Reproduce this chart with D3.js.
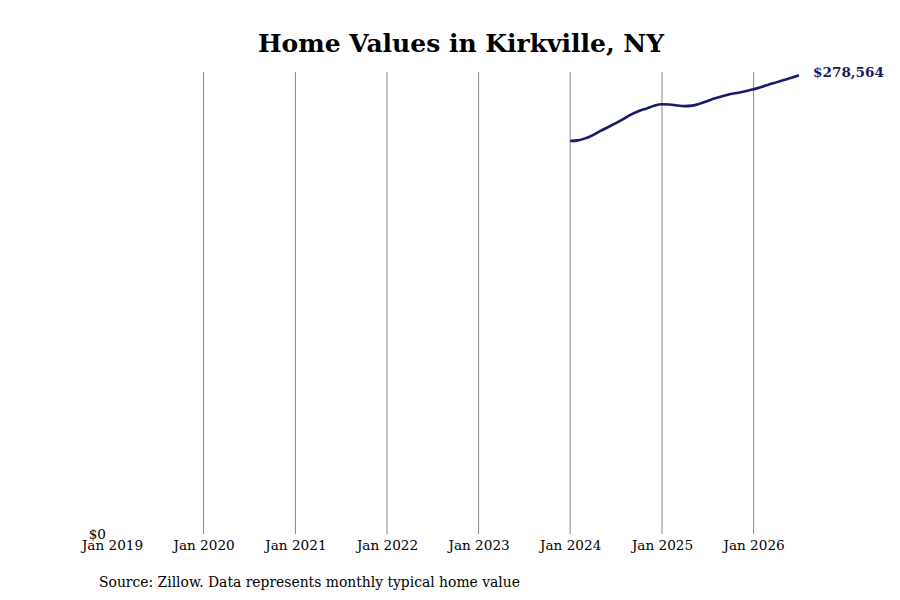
<!DOCTYPE html>
<html lang="en">
<head>
<meta charset="utf-8">
<title>Home Values in Kirkville, NY</title>
<script src="https://d3js.org/d3.v7.min.js"></script>
<style>
  body { margin: 0; background: #fff; }
  text { font-family: "DejaVu Serif", serif; }
</style>
</head>
<body>
<script>
// chart data
const startMonth = "2024-01";
const homeValues = [
  238600, 239000, 240200, 242200, 244700, 247100, 249500, 252100, 254800, 256800,
  258400, 260000, 260900, 260800, 260200, 259800, 260100, 261300, 262900, 264500,
  265900, 267100, 267900, 268900, 270000, 271400, 272800, 274200, 275600, 277000,
  278564
];
const tickYears = [2019, 2020, 2021, 2022, 2023, 2024, 2025, 2026];
const yTicks = [0];

const W = 900, H = 600;
const parse = d3.timeParse("%Y-%m");
const t0 = parse(startMonth);
const data = homeValues.map((v, i) => ({ date: d3.timeMonth.offset(t0, i), value: v }));

const svg = d3.select("body").append("svg")
  .attr("width", W).attr("height", H);

const x = d3.scaleTime()
  .domain([new Date(2019, 0, 1), new Date(2026, 6, 1)])
  .range([112, 799]);
const y = d3.scaleLinear()
  .domain([0, 280500])
  .range([534, 72]);

// title
svg.append("text")
  .attr("x", 461).attr("y", 52)
  .attr("text-anchor", "middle")
  .attr("font-size", "25px")
  .attr("font-weight", "bold")
  .text("Home Values in Kirkville, NY");

// vertical gridlines
svg.append("g").selectAll("line")
  .data(tickYears.slice(1))
  .join("line")
  .attr("x1", d => x(new Date(d, 0, 1))).attr("x2", d => x(new Date(d, 0, 1)))
  .attr("y1", y(280500)).attr("y2", y(0))
  .attr("stroke", "#888").attr("stroke-width", 1);

// x axis labels
const xAxis = d3.axisBottom(x)
  .tickValues(tickYears.map(d => new Date(d, 0, 1)))
  .tickFormat(d3.timeFormat("Jan %Y"))
  .tickSize(0).tickPadding(6);
svg.append("g")
  .attr("transform", `translate(0,${y(0)})`)
  .call(xAxis)
  .call(g => g.select(".domain").remove())
  .call(g => g.selectAll("text")
    .attr("font-family", "DejaVu Serif").attr("font-size", "13.6px").attr("fill", "#000"));

// y axis label
const yAxis = d3.axisLeft(y)
  .tickValues(yTicks)
  .tickFormat(d => "$" + d3.format(",")(d))
  .tickSize(0).tickPadding(6);
svg.append("g")
  .attr("transform", "translate(112,0)")
  .call(yAxis)
  .call(g => g.select(".domain").remove())
  .call(g => g.selectAll("text")
    .attr("font-family", "DejaVu Serif").attr("font-size", "13.6px").attr("fill", "#000"));

// line
const line = d3.line()
  .x(d => x(d.date))
  .y(d => y(d.value))
  .curve(d3.curveMonotoneX);
svg.append("path")
  .datum(data)
  .attr("d", line)
  .attr("fill", "none")
  .attr("stroke", "#1a1a6b")
  .attr("stroke-width", 2.6);

// last value label
const last = data[data.length - 1];
svg.append("text")
  .attr("x", x(last.date) + 14).attr("y", y(last.value))
  .attr("dy", "0.1em")
  .attr("font-size", "13.6px")
  .attr("font-weight", "bold")
  .attr("fill", "#1a1a5e")
  .text("$" + d3.format(",")(last.value));

// source
svg.append("text")
  .attr("x", 99).attr("y", 587)
  .attr("font-size", "13.9px")
  .text("Source: Zillow. Data represents monthly typical home value");
</script>
</body>
</html>
